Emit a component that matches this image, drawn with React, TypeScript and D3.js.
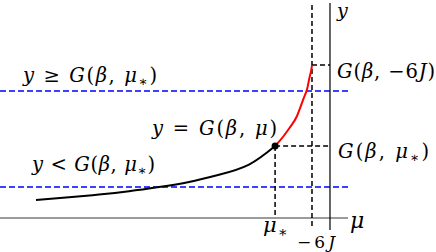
import * as d3 from 'd3';

// curve G(beta, mu), units with J = 1
const lowMu = [-98, -87, -77, -67, -57, -47, -37, -27, -18.3];
const lowY = [6, 6.9, 7.8, 8.9, 10.3, 12.0, 14.4, 17.8, 24];
const highMu = [-18.3, -15.7, -13, -11, -9, -7.7, -7, -6.3, -6];
const highY = [24, 27, 30.7, 34, 39.3, 42.7, 46, 49, 51];

const muStar = -18.3;
const muEdge = -6;
const gStar = 24;
const gEdge = 51;
const levels = [42.3, 10.3];

const width = 436;
const height = 252;

type Seg = { t: string; i?: boolean; sub?: boolean };

const MathText = ({ x, y, segs, size = 19.5, len }: { x: number; y: number; segs: Seg[]; size?: number; len?: number }) => (
  <text
    x={x}
    y={y}
    fontFamily="'DejaVu Serif', serif"
    fontSize={size}
    fill="#000"
    textLength={len}
    lengthAdjust={len ? 'spacing' : undefined}
  >
    {segs.map((s, k) => (
      <tspan
        key={k}
        fontStyle={s.i ? 'italic' : 'normal'}
        fontSize={s.sub ? size * 0.7 : size}
        dy={s.sub ? size * 0.22 : k > 0 && segs[k - 1].sub ? -size * 0.22 : 0}
      >
        {s.t}
      </tspan>
    ))}
  </text>
);

const App = () => {
  const x = d3.scaleLinear().domain([-110, 6.67]).range([0, 350]);
  const y = d3.scaleLinear().domain([0, 72]).range([218, 2]);

  const line = d3
    .line<[number, number]>()
    .x(d => x(d[0]))
    .y(d => y(d[1]))
    .curve(d3.curveNatural);

  const low = lowMu.map((m, k) => [m, lowY[k]] as [number, number]);
  const high = highMu.map((m, k) => [m, highY[k]] as [number, number]);

  const x0 = x(0);
  const gStarSegs: Seg[] = [{ t: 'G', i: true }, { t: '(' }, { t: 'β', i: true }, { t: ', ' }, { t: 'μ', i: true }, { t: '∗', sub: true }, { t: ')' }];

  return (
    <svg width={width} height={height} style={{ position: 'absolute', left: 0, top: 0 }}>
      {/* level lines */}
      {levels.map(l => (
        <line key={l} x1={0} x2={x(6.3)} y1={y(l)} y2={y(l)} stroke="#0000ff" strokeWidth={1.5} strokeDasharray="6,3" />
      ))}

      {/* axes */}
      <line x1={0} x2={x(6)} y1={y(0)} y2={y(0)} stroke="#7a7a7a" strokeWidth={1.5} />
      <line x1={x0} x2={x0} y1={3} y2={230} stroke="#000" strokeWidth={1.2} />

      {/* guides */}
      <line x1={x(muEdge)} x2={x(muEdge)} y1={5} y2={228} stroke="#000" strokeWidth={1.5} strokeDasharray="5,3" />
      <line x1={x(muEdge)} x2={x0} y1={y(gEdge)} y2={y(gEdge)} stroke="#000" strokeWidth={1.5} strokeDasharray="5,3" />
      <line x1={x(muStar)} x2={x0} y1={y(gStar)} y2={y(gStar)} stroke="#000" strokeWidth={1.5} strokeDasharray="5,3" />
      <line x1={x(muStar)} x2={x(muStar)} y1={y(gStar)} y2={y(0)} stroke="#000" strokeWidth={1.5} strokeDasharray="5,3" />

      {/* curve */}
      <path d={line(low) ?? ''} fill="none" stroke="#000" strokeWidth={2} />
      <path d={line(high) ?? ''} fill="none" stroke="#ff0000" strokeWidth={2} />
      <circle cx={x(muStar)} cy={y(gStar)} r={3.5} fill="#000" />

      {/* labels */}
      <MathText x={23} y={82} len={134} segs={[{ t: 'y', i: true }, { t: ' ≥ ' }, ...gStarSegs]} />
      <MathText x={152} y={135} len={125} segs={[{ t: 'y', i: true }, { t: ' = ' }, { t: 'G', i: true }, { t: '(' }, { t: 'β', i: true }, { t: ', ' }, { t: 'μ', i: true }, { t: ')' }]} />
      <MathText x={32} y={171} len={123} segs={[{ t: 'y', i: true }, { t: ' < ' }, ...gStarSegs]} />
      <MathText x={x0 + 7} y={y(gEdge) + 13} len={98} segs={[{ t: 'G', i: true }, { t: '(' }, { t: 'β', i: true }, { t: ', −6' }, { t: 'J', i: true }, { t: ')' }]} />
      <MathText x={x0 + 8} y={y(gStar) + 12} len={91} segs={gStarSegs} />
      <MathText x={x(muStar) - 12} y={232} size={21} len={25} segs={[{ t: 'μ', i: true }, { t: '∗', sub: true }]} />
      <MathText x={x(muEdge) - 15} y={248} size={17} len={38} segs={[{ t: '−6' }, { t: 'J', i: true }]} />
      <MathText x={350} y={228} size={22} segs={[{ t: 'μ', i: true }]} />
      <MathText x={337} y={17} size={19} segs={[{ t: 'y', i: true }]} />
    </svg>
  );
};

export default App;
